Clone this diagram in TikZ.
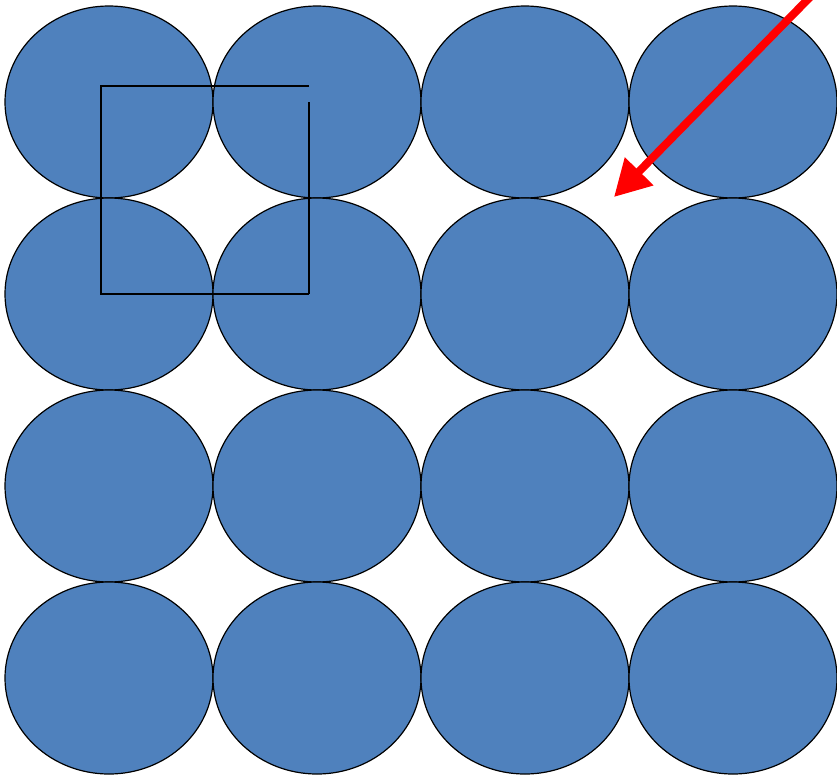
\documentclass[tikz,border=0pt]{standalone}
\usetikzlibrary{shapes.geometric,arrows.meta}
\definecolor{cellblue}{RGB}{79,129,189}
\tikzset{
  cell/.style={ellipse, draw=black, fill=cellblue, line width=1.2pt, minimum width=208pt, minimum height=192pt, inner sep=0pt},
  sqline/.style={draw=black, line width=1.3pt},
  redarrow/.style={draw=red, line width=8pt, -{Triangle[length=36pt,width=38pt]}}
}
\begin{document}
\begin{tikzpicture}[x=1pt,y=-1pt]
\useasboundingbox (0,0) rectangle (837,774);
\foreach \r/\yy in {1/102,2/294,3/486,4/678}{
  \foreach \c/\xx in {1/109,2/317,3/525,4/733}{
    \node[cell] (e\r\c) at (\xx,\yy) {};
  }
}
\coordinate (sqa) at (101,86);
\coordinate (sqb) at (309,86);
\coordinate (sqc) at (309,294);
\coordinate (sqd) at (101,294);
\coordinate (sqe) at (309,102);
\draw[sqline] (sqb) -- (sqa) -- (sqd) -- (sqc);
\draw[sqline] (sqe) -- (sqc);
\coordinate (arrstart) at (817,-10);
\coordinate (arrtip) at (614,197);
\draw[redarrow] (arrstart) -- (arrtip);
\end{tikzpicture}
\end{document}
